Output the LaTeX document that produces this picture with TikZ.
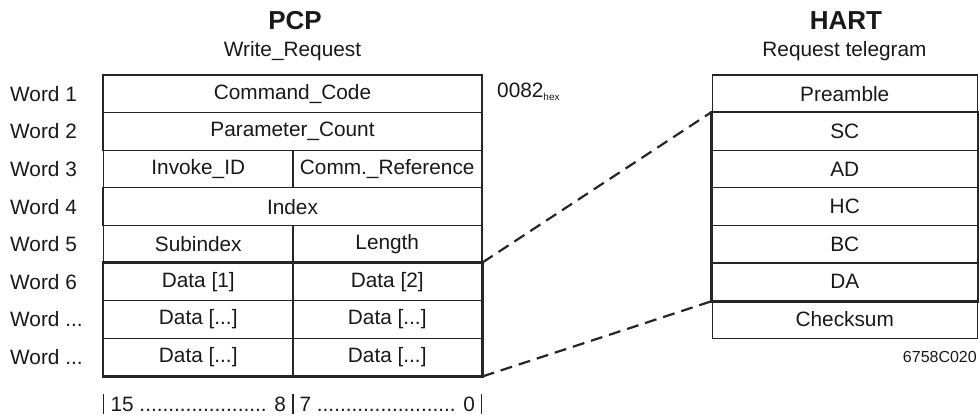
\documentclass[tikz,border=0pt]{standalone}
\usepackage{fontspec}
\setmainfont{Liberation Sans}
\begin{document}
\begin{tikzpicture}[x=1pt,y=-1pt,
  every node/.style={font=\fontsize{20.8}{24}\selectfont, text=black!90},
  cell/.style={draw=black!85, line width=1.2pt, rectangle, inner sep=0pt, minimum height=37.6pt},
  full/.style={cell, minimum width=379pt},
  half/.style={cell, minimum width=189.5pt},
  hart/.style={cell, minimum width=265pt},
  wordlbl/.style={anchor=west, inner sep=0pt},
  title/.style={font=\fontsize{26}{30}\selectfont\bfseries},
  thickbox/.style={draw=black!85, line width=2.6pt},
  conn/.style={draw=black!85, line width=2.2pt, dash pattern=on 12pt off 7pt},
  bar/.style={draw=black!85, line width=1.1pt}
]
\useasboundingbox (0,0) rectangle (980,418);

% Titles
\node[title] (pcp) at (295,21) {PCP};
\node (wr) at (292.5,51) {Write\_Request};
\node[title] (hart) at (846,21) {HART};
\node (rt) at (844.5,51) {Request telegram};

% PCP table
\node[full] (c1) at (292.5,93.8) {Command\_Code};
\node[full] (c2) at (292.5,131.4) {Parameter\_Count};
\node[half] (c3a) at (198.25,169) {Invoke\_ID};
\node[half] (c3b) at (387.25,169) {Comm.\_Reference};
\node[full] (c4) at (292.5,206.6) {Index};
\node[half] (c5a) at (198.25,244.2) {Subindex};
\node[half] (c5b) at (387.25,244.2) {Length};
\node[half] (c6a) at (198.25,281.8) {Data [1]};
\node[half] (c6b) at (387.25,281.8) {Data [2]};
\node[half] (c7a) at (198.25,319.4) {Data [...]};
\node[half] (c7b) at (387.25,319.4) {Data [...]};
\node[half] (c8a) at (198.25,357) {Data [...]};
\node[half] (c8b) at (387.25,357) {Data [...]};
\draw[thickbox] (c6a.north west) rectangle (c8b.south east);

% Word labels
\node[wordlbl] (w1) at (10,93.8) {Word 1};
\node[wordlbl] (w2) at (10,131.4) {Word 2};
\node[wordlbl] (w3) at (10,169) {Word 3};
\node[wordlbl] (w4) at (10,206.6) {Word 4};
\node[wordlbl] (w5) at (10,244.2) {Word 5};
\node[wordlbl] (w6) at (10,281.8) {Word 6};
\node[wordlbl] (w7) at (10,319.4) {Word ...};
\node[wordlbl] (w8) at (10,357) {Word ...};

\node[anchor=west, inner sep=0pt] (hex) at (497,92) {0082\textsubscript{\fontsize{10}{12}\selectfont hex}};

% HART table
\node[hart] (pre) at (844.75,93.8) {Preamble};
\node[hart] (sc) at (844.75,131.4) {SC};
\node[hart] (ad) at (844.75,169) {AD};
\node[hart] (hc) at (844.75,206.6) {HC};
\node[hart] (bc) at (844.75,244.2) {BC};
\node[hart] (da) at (844.75,281.8) {DA};
\node[hart] (cs) at (844.75,319.4) {Checksum};
\draw[thickbox] (sc.north west) rectangle (da.south east);

\node[anchor=east, inner sep=0pt, font=\fontsize{16}{19}\selectfont] (code) at (977,357) {6758C020};

% Dashed connectors
\draw[conn] (c6b.north east) -- (sc.north west);
\draw[conn] (c8b.south east) -- (da.south west);

% Bit range
\coordinate (b0) at (103.5,394);
\coordinate (b0e) at (103.5,414);
\coordinate (b1) at (293,394);
\coordinate (b1e) at (293,414);
\coordinate (b2) at (481.5,394);
\coordinate (b2e) at (481.5,414);
\draw[bar] (b0) -- (b0e);
\draw[bar] (b1) -- (b1e);
\draw[bar] (b2) -- (b2e);
\node[inner sep=0pt] (bits1) at (198.25,404) {15 ...................... 8};
\node[inner sep=0pt] (bits2) at (387.25,404) {7 ........................ 0};
\end{tikzpicture}
\end{document}
